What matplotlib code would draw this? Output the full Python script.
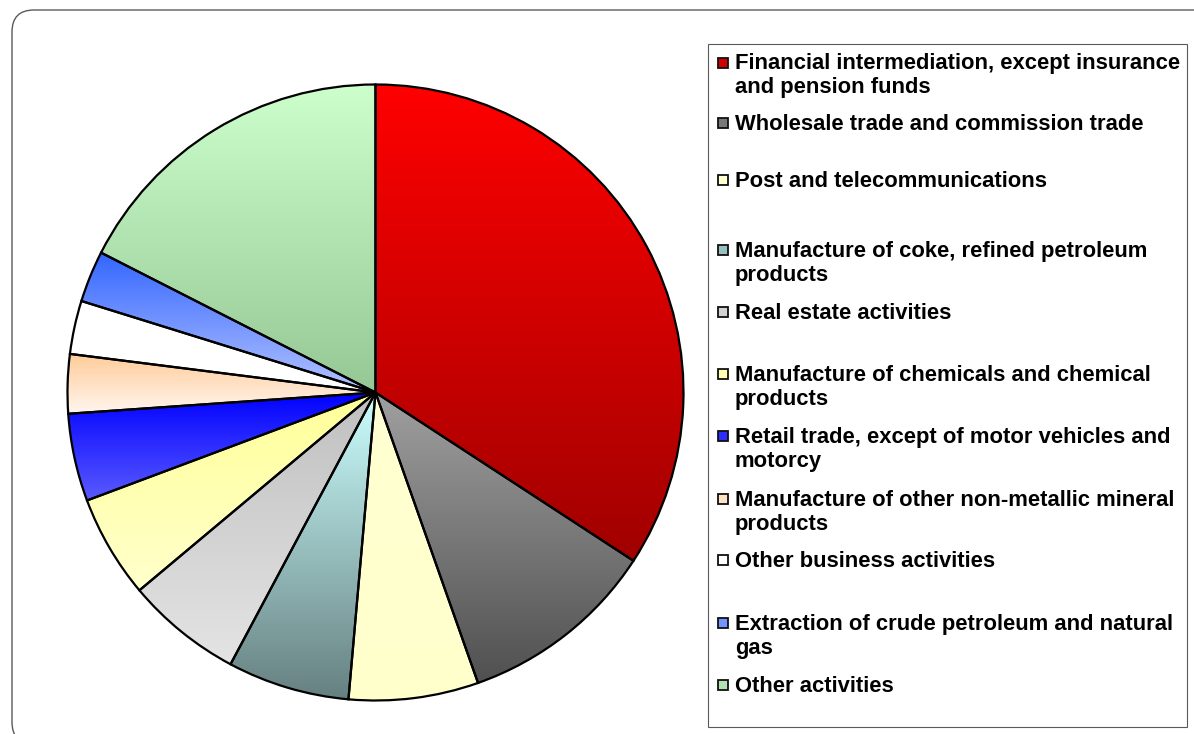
import numpy as np
import matplotlib
matplotlib.use("Agg")
import matplotlib.pyplot as plt
from matplotlib.colors import to_rgb
from matplotlib.patches import FancyBboxPatch, Rectangle
from matplotlib.transforms import IdentityTransform

# ---------------- data ----------------
categories = [
    "Financial intermediation, except insurance\nand pension funds",
    "Wholesale trade and commission trade",
    "Post and telecommunications",
    "Manufacture of coke, refined petroleum\nproducts",
    "Real estate activities",
    "Manufacture of chemicals and chemical\nproducts",
    "Retail trade, except of motor vehicles and\nmotorcy",
    "Manufacture of other non-metallic mineral\nproducts",
    "Other business activities",
    "Extraction of crude petroleum and natural\ngas",
    "Other activities",
]
shares = [34.2, 10.4, 6.8, 6.4, 6.1, 5.4, 4.6, 3.1, 2.8, 2.7, 17.5]

top_colors = ["#FF0000", "#A0A0A0", "#FFFFD2", "#CCFFFF", "#C0C0C0", "#FFFF99",
              "#0000FF", "#FFCC99", "#FFFFFF", "#3366FF", "#CCFFCC"]
bottom_colors = ["#A00000", "#505050", "#FFFFCC", "#668080", "#E4E4E4", "#FFFFCC",
                 "#5A5AFF", "#FFF6F0", "#FFFFFF", "#B4C3FF", "#96C896"]

# ---------------- layout ----------------
W, H = 1194, 734
fig = plt.figure(figsize=(W / 100, H / 100), dpi=100)
fig.patch.set_facecolor("white")

cx, cy, R = 375.5, 392.5, 308.0
pad = 1.03
half = R * pad
ax = fig.add_axes([(cx - half) / W, (H - cy - half) / H, 2 * half / W, 2 * half / H])

wedges, _ = ax.pie(shares, startangle=90, counterclock=False, radius=1,
                   colors=top_colors,
                   wedgeprops=dict(edgecolor="black", linewidth=1.6))

for w, c_top, c_bot in zip(wedges, top_colors, bottom_colors):
    ext = w.get_path().get_extents()
    t = np.linspace(0, 1, 256)[:, None, None]
    grad = (1 - t) * np.array(to_rgb(c_top))[None, None, :] + t * np.array(to_rgb(c_bot))[None, None, :]
    im = ax.imshow(grad, extent=[ext.x0, ext.x1, ext.y0, ext.y1], origin="upper",
                   aspect="auto", interpolation="bilinear", zorder=1)
    im.set_clip_path(w)
    w.set_facecolor("none")
    w.set_zorder(2)

ax.set_xlim(-pad, pad)
ax.set_ylim(-pad, pad)
ax.set_aspect("equal", adjustable="box")
ax.axis("off")

# outer rounded frame (pixel coordinates)
frame = FancyBboxPatch((12, -10), 1205, H - 10 + 10, boxstyle="round,pad=0,rounding_size=22",
                       transform=IdentityTransform(), facecolor="none",
                       edgecolor="#5a5a5a", linewidth=1.0)
fig.add_artist(frame)

# legend box
lx0, ly0, lx1, ly1 = 708, 44, 1187, 727
fig.add_artist(Rectangle((lx0, H - ly1), lx1 - lx0, ly1 - ly0, transform=IdentityTransform(),
                         facecolor="white", edgecolor="#5a5a5a", linewidth=0.8, zorder=0))

baselines = [69.5, 130.0, 187.0, 256.8, 318.8, 381.2, 442.8, 506.2, 566.8, 630.2, 691.8]
line_step = 24.0
text_x = 735
for label, base, c_top, c_bot in zip(categories, baselines, top_colors, bottom_colors):
    for k, line in enumerate(label.split("\n")):
        fig.text(text_x / W, (H - (base + k * line_step)) / H, line,
                 fontsize=15.8, fontweight="bold", family="Liberation Sans",
                 ha="left", va="baseline", color="black")
    mid = 0.5 * (np.array(to_rgb(c_top)) + np.array(to_rgb(c_bot)))
    size = 10
    mcx, mcy = 723.3, base - 6.8
    fig.add_artist(Rectangle((mcx - size / 2, H - mcy - size / 2), size, size,
                             transform=IdentityTransform(), facecolor=mid,
                             edgecolor="#101010", linewidth=1.3))

fig.savefig("out.png", dpi=100)
